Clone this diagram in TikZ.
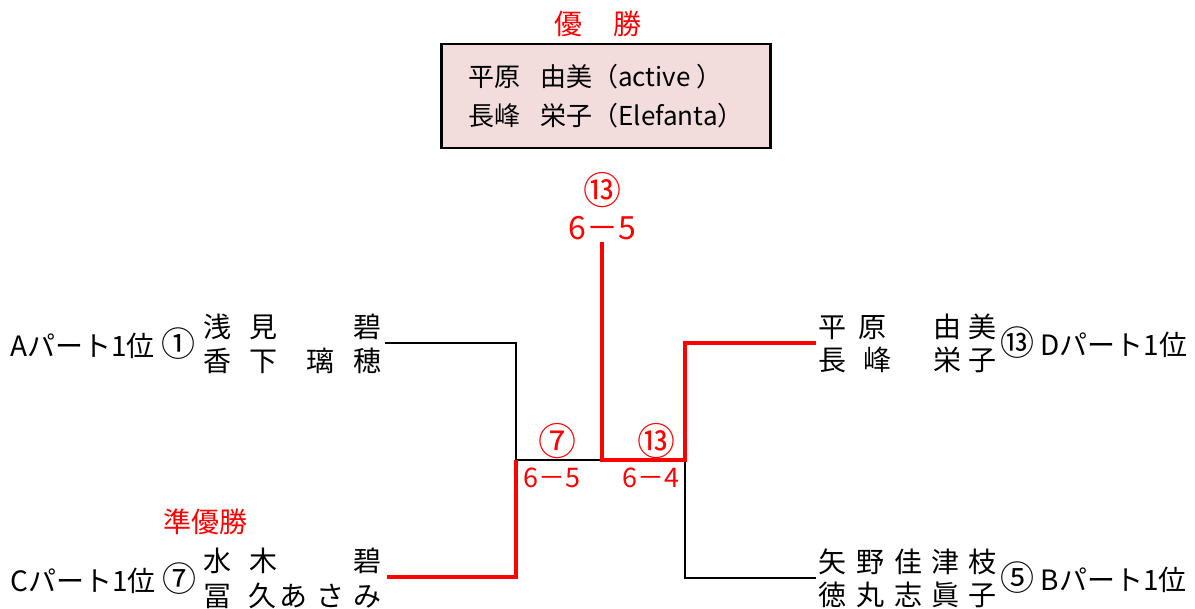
\documentclass[tikz,border=0pt]{standalone}
\usepackage{fontspec}
\setmainfont{Noto Sans CJK JP}
\usetikzlibrary{positioning}
\definecolor{boxpink}{RGB}{242,220,220}
\newcommand{\seednum}[1]{{\fontsize{17}{16}\selectfont #1}}
\tikzset{
  every node/.style={inner sep=0pt},
  player/.style={anchor=west,font=\fontsize{14}{16}\selectfont},
  part/.style={anchor=west,font=\fontsize{14}{16}\selectfont},
  title/.style={text=red,font=\fontsize{14}{16}\selectfont},
  circ/.style={text=red,font=\fontsize{19}{20}\selectfont},
  score/.style={text=red,font=\fontsize{13.5}{14}\selectfont},
  loser/.style={black,line width=0.8pt},
  winner/.style={red,line width=2pt},
}
\begin{document}
\begin{tikzpicture}[x=0.5pt,y=-0.5pt]
\useasboundingbox (0,0) rectangle (1195,609);
% champion
\node[title] (win) at (598,24) {優\hspace{16pt}勝};
\node[draw=black,line width=1.3pt,fill=boxpink,minimum width=164.5pt,minimum height=52pt,
  align=left,font=\fontsize{13}{19.5}\selectfont] (champ) at (606,96)
  {平原\hspace{10pt}由美（active ）\\長峰\hspace{10pt}栄子（Elefanta）};

% left side
\node[part] (seedA) at (10,344) {Aパート1位\ \seednum{①}};
\node[player] (pA1) at (203,327) {浅\hspace{9pt}見\hspace{38pt}碧};
\node[player] (pA2) at (203,361) {香\hspace{9pt}下\hspace{14.5pt}璃\hspace{9.5pt}穂};
\node[title] (runner) at (205,522) {準優勝};
\node[part] (seedC) at (10,579) {Cパート1位\ \seednum{⑦}};
\node[player] (pC1) at (203,561) {水\hspace{9pt}木\hspace{38pt}碧};
\node[player] (pC2) at (203,596) {冨\hspace{8.5pt}久\hspace{1.5pt}あ\hspace{4.5pt}さ\hspace{4.5pt}み};

% right side
\node[player] (pD1) at (818,327) {平\hspace{6pt}原\hspace{23.5pt}由\hspace{3.5pt}美};
\node[player] (pD2) at (818,360) {長\hspace{8.5pt}峰\hspace{21pt}栄\hspace{3.5pt}子};
\node[part] (seedD) at (1000,343) {\seednum{⑬} Dパート1位};
\node[player] (pB1) at (818,562) {矢\hspace{5pt}野\hspace{5pt}佳\hspace{4.5pt}津\hspace{4.5pt}枝};
\node[player] (pB2) at (818,595) {徳\hspace{5pt}丸\hspace{5pt}志\hspace{4.5pt}眞\hspace{4.5pt}子};
\node[part] (seedB) at (1000,578) {\seednum{⑤} Bパート1位};

% bracket
\coordinate (A) at (385,343);
\coordinate (C) at (387,577);
\coordinate (D) at (816,343);
\coordinate (B) at (816,578);
\coordinate (semiL) at (516,460);
\coordinate (semiR) at (685,460);
\coordinate (fin) at (602,460);
\coordinate (top) at (602,242);
\draw[loser] (A) -| (semiL);
\draw[loser] (semiL) -- (fin);
\draw[winner] (C) -| (semiL);
\draw[loser] (B) -| (semiR);
\draw[winner] (D) -| (semiR) -- (fin) -- (top);

% scores
\node[circ] (m7) at (557,441) {⑦};
\node[score] (s7) at (552,478) {6－5};
\node[circ] (m13) at (656,441) {⑬};
\node[score] (s13) at (651,478) {6－4};
\node[circ] (f13) at (602,190) {⑬};
\node[score,font=\fontsize{16}{18}\selectfont] (fs) at (602,228) {6－5};
\end{tikzpicture}
\end{document}
